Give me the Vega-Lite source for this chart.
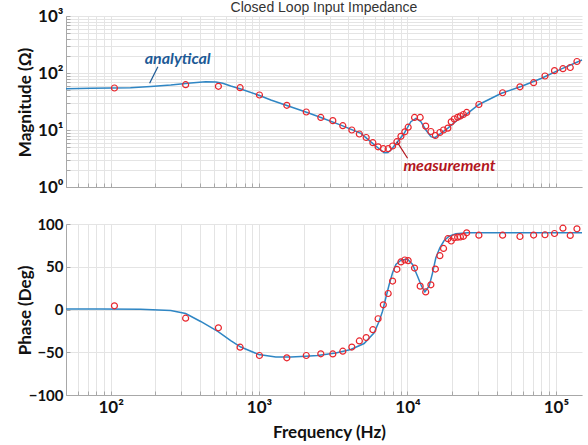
{
  "$schema": "https://vega.github.io/schema/vega-lite/v6.json",
  "autosize": {"type": "pad"},
  "padding": {"left": 16, "top": 1, "right": 6, "bottom": 4},
  "bounds": "flush",
  "spacing": 37,
  "config": {
    "view": {"stroke": null},
    "font": "Lato",
    "axis": {
      "grid": true,
      "gridColor": "#e4e4e4",
      "gridWidth": 1,
      "domainColor": "#a8a8a8",
      "domainWidth": 1,
      "ticks": true,
      "tickSize": -4,
      "tickColor": "#a8a8a8",
      "labelColor": "#111111",
      "labelFont": "Lato",
      "labelFontWeight": "bold",
      "labelOverlap": false,
      "titleColor": "#111111",
      "titleFont": "Lato",
      "titleFontWeight": "bold",
      "titleFontSize": 17
    }
  },
  "datasets": {
    "meas": [
      {"f": 106, "mag": 54.6, "phase": 4.3},
      {"f": 320, "mag": 62.4, "phase": -10.2},
      {"f": 532, "mag": 58.4, "phase": -21.4},
      {"f": 745, "mag": 55.2, "phase": -44.1},
      {"f": 1006, "mag": 41.1, "phase": -53.8},
      {"f": 1538, "mag": 27.1, "phase": -56.5},
      {"f": 2080, "mag": 20.7, "phase": -53.8},
      {"f": 2606, "mag": 16.6, "phase": -51.8},
      {"f": 3140, "mag": 14.6, "phase": -52.0},
      {"f": 3666, "mag": 11.9, "phase": -48.8},
      {"f": 4217, "mag": 10.0, "phase": -43.9},
      {"f": 4740, "mag": 8.51, "phase": -36.8},
      {"f": 5270, "mag": 7.39, "phase": -32.8},
      {"f": 5845, "mag": 5.99, "phase": -23.6},
      {"f": 6340, "mag": 5.07, "phase": -10.8},
      {"f": 6875, "mag": 4.70, "phase": 5.5},
      {"f": 7413, "mag": 4.70, "phase": 18.7},
      {"f": 7940, "mag": 5.24, "phase": 33.3},
      {"f": 8488, "mag": 6.23, "phase": 47.0},
      {"f": 9034, "mag": 7.75, "phase": 55.6},
      {"f": 9598, "mag": 9.30, "phase": 57.9},
      {"f": 10110, "mag": 11.2, "phase": 57.2},
      {"f": 11160, "mag": 16.6, "phase": 48.5},
      {"f": 12180, "mag": 16.6, "phase": 27.3},
      {"f": 13270, "mag": 11.7, "phase": 20.5},
      {"f": 14380, "mag": 9.41, "phase": 28.9},
      {"f": 15420, "mag": 8.01, "phase": 47.3},
      {"f": 16530, "mag": 9.04, "phase": 62.9},
      {"f": 17500, "mag": 10.0, "phase": 71.4},
      {"f": 18720, "mag": 10.8, "phase": 82.8},
      {"f": 19720, "mag": 13.9, "phase": 80.1},
      {"f": 20660, "mag": 15.6, "phase": 83.9},
      {"f": 21780, "mag": 16.7, "phase": 84.6},
      {"f": 22740, "mag": 17.6, "phase": 84.8},
      {"f": 23830, "mag": 18.7, "phase": 85.6},
      {"f": 25060, "mag": 20.3, "phase": 89.7},
      {"f": 30290, "mag": 28.0, "phase": 86.9},
      {"f": 43770, "mag": 45.0, "phase": 86.9},
      {"f": 57280, "mag": 57.3, "phase": 85.4},
      {"f": 70800, "mag": 67.6, "phase": 87.1},
      {"f": 84470, "mag": 88.6, "phase": 87.4},
      {"f": 97900, "mag": 110, "phase": 88.9},
      {"f": 111600, "mag": 119, "phase": 95.1},
      {"f": 125000, "mag": 125, "phase": 86.6},
      {"f": 138700, "mag": 159, "phase": 94.4}
    ],
    "anaMag": [
      {"f": 50, "mag": 53.0},
      {"f": 73.3, "mag": 53.9},
      {"f": 100, "mag": 54.6},
      {"f": 136, "mag": 55.3},
      {"f": 186, "mag": 58.0},
      {"f": 254, "mag": 61.6},
      {"f": 346, "mag": 66.8},
      {"f": 437, "mag": 70.1},
      {"f": 511, "mag": 69.5},
      {"f": 569, "mag": 65.9},
      {"f": 644, "mag": 59.1},
      {"f": 753, "mag": 52.4},
      {"f": 1007, "mag": 40.3},
      {"f": 1200, "mag": 33.6},
      {"f": 1538, "mag": 26.9},
      {"f": 2066, "mag": 20.7},
      {"f": 2608, "mag": 16.6},
      {"f": 3556, "mag": 12.2},
      {"f": 4853, "mag": 8.75},
      {"f": 5934, "mag": 5.61},
      {"f": 6413, "mag": 4.73},
      {"f": 6966, "mag": 4.00},
      {"f": 7379, "mag": 4.03},
      {"f": 7730, "mag": 4.46},
      {"f": 8579, "mag": 6.23},
      {"f": 9500, "mag": 8.75},
      {"f": 10540, "mag": 14.0},
      {"f": 11400, "mag": 16.0},
      {"f": 12310, "mag": 14.0},
      {"f": 13310, "mag": 10.0},
      {"f": 14390, "mag": 7.63},
      {"f": 15310, "mag": 7.33},
      {"f": 16800, "mag": 8.75},
      {"f": 18640, "mag": 10.7},
      {"f": 21760, "mag": 15.0},
      {"f": 25410, "mag": 19.6},
      {"f": 30290, "mag": 28.0},
      {"f": 42640, "mag": 43.7},
      {"f": 58210, "mag": 58.0},
      {"f": 79400, "mag": 80.1},
      {"f": 108200, "mag": 117},
      {"f": 150000, "mag": 169}
    ],
    "anaPh": [
      {"f": 50, "phase": 0.6},
      {"f": 85.6, "phase": 0.6},
      {"f": 159, "phase": 0.35},
      {"f": 254, "phase": -1.2},
      {"f": 320, "phase": -4.7},
      {"f": 404, "phase": -14.0},
      {"f": 527, "phase": -25.7},
      {"f": 644, "phase": -36.3},
      {"f": 753, "phase": -43.9},
      {"f": 995, "phase": -52.6},
      {"f": 1297, "phase": -55.6},
      {"f": 1637, "phase": -55.6},
      {"f": 2066, "phase": -54.6},
      {"f": 2477, "phase": -53.8},
      {"f": 3289, "phase": -50.9},
      {"f": 4150, "phase": -46.8},
      {"f": 5101, "phase": -39.8},
      {"f": 5961, "phase": -27.3},
      {"f": 6442, "phase": -13.7},
      {"f": 6790, "phase": -2.0},
      {"f": 7148, "phase": 13.7},
      {"f": 7530, "phase": 29.2},
      {"f": 7935, "phase": 42.9},
      {"f": 8356, "phase": 52.6},
      {"f": 9032, "phase": 57.7},
      {"f": 9600, "phase": 58.5},
      {"f": 10060, "phase": 58.5},
      {"f": 10820, "phase": 52.6},
      {"f": 11690, "phase": 38.9},
      {"f": 12440, "phase": 27.3},
      {"f": 13100, "phase": 20.7},
      {"f": 14000, "phase": 27.3},
      {"f": 14760, "phase": 42.9},
      {"f": 15530, "phase": 60.5},
      {"f": 16520, "phase": 72.2},
      {"f": 17670, "phase": 80.7},
      {"f": 19100, "phase": 85.7},
      {"f": 21190, "phase": 88.5},
      {"f": 25410, "phase": 89.7},
      {"f": 150000, "phase": 89.7}
    ]
  },
  "vconcat": [
    {
      "width": 516,
      "height": 171,
      "title": {
        "text": "Closed Loop Input Impedance",
        "font": "Liberation Sans",
        "fontSize": 14,
        "fontWeight": "normal",
        "color": "#333333",
        "frame": "group",
        "anchor": "middle",
        "baseline": "alphabetic",
        "offset": 3,
        "dy": 22
      },
      "encoding": {
        "x": {
          "field": "f",
          "type": "quantitative",
          "scale": {"type": "log", "domain": [50, 150000], "nice": false},
          "axis": {
            "values": [50, 60, 70, 80, 90, 100, 200, 300, 400, 500, 600, 700, 800, 900, 1000, 2000, 3000, 4000, 5000, 6000, 7000, 8000, 9000, 10000, 20000, 30000, 40000, 50000, 60000, 70000, 80000, 90000, 100000],
            "labels": false,
            "title": null
          }
        },
        "y": {
          "field": "mag",
          "type": "quantitative",
          "scale": {"type": "log", "domain": [1, 1000], "nice": false},
          "axis": {
            "values": [1, 2, 3, 4, 5, 6, 7, 8, 9, 10, 20, 30, 40, 50, 60, 70, 80, 90, 100, 200, 300, 400, 500, 600, 700, 800, 900, 1000],
            "labelExpr": "datum.value == 1 ? '10⁰' : datum.value == 10 ? '10¹' : datum.value == 100 ? '10²' : datum.value == 1000 ? '10³' : ''",
            "labelFontSize": 17,
            "labelPadding": 7,
            "title": "Magnitude (Ω)",
            "titleX": -41,
            "titleY": 86,
            "titleAngle": -90,
            "titleAlign": "center",
            "titleBaseline": "middle"
          }
        }
      },
      "layer": [
        {
          "data": {"name": "anaMag"},
          "mark": {"type": "line", "color": "#2f86c4", "strokeWidth": 1.5}
        },
        {
          "data": {"name": "meas"},
          "mark": {"type": "point", "shape": "circle", "filled": false, "color": "#e8262d", "size": 36, "strokeWidth": 1.2, "opacity": 1}
        },
        {
          "data": {"values": [{"f": 208, "mag": 129, "f2": 183, "mag2": 65.9}]},
          "mark": {"type": "rule", "color": "#1d5a96", "strokeWidth": 1.2},
          "encoding": {"x2": {"field": "f2"}, "y2": {"field": "mag2"}}
        },
        {
          "data": {"values": [{"f": 283, "mag": 176, "label": "analytical"}]},
          "mark": {"type": "text", "font": "Lato", "fontSize": 16, "fontStyle": "italic", "fontWeight": "bold", "color": "#1d5a96", "align": "center", "baseline": "middle"},
          "encoding": {"text": {"field": "label"}}
        },
        {
          "data": {"values": [{"f": 8488, "mag": 6.24, "f2": 10016, "mag2": 3.19}]},
          "mark": {"type": "rule", "color": "#b3161d", "strokeWidth": 1.2},
          "encoding": {"x2": {"field": "f2"}, "y2": {"field": "mag2"}}
        },
        {
          "data": {"values": [{"f": 19190, "mag": 2.37, "label": "measurement"}]},
          "mark": {"type": "text", "font": "Lato", "fontSize": 16, "fontStyle": "italic", "fontWeight": "bold", "color": "#b3161d", "align": "center", "baseline": "middle"},
          "encoding": {"text": {"field": "label"}}
        }
      ]
    },
    {
      "width": 516,
      "height": 171,
      "encoding": {
        "x": {
          "field": "f",
          "type": "quantitative",
          "scale": {"type": "log", "domain": [50, 150000], "nice": false},
          "axis": {
            "values": [50, 60, 70, 80, 90, 100, 200, 300, 400, 500, 600, 700, 800, 900, 1000, 2000, 3000, 4000, 5000, 6000, 7000, 8000, 9000, 10000, 20000, 30000, 40000, 50000, 60000, 70000, 80000, 90000, 100000],
            "labelExpr": "datum.value == 100 ? '10²' : datum.value == 1000 ? '10³' : datum.value == 10000 ? '10⁴' : datum.value == 100000 ? '10⁵' : ''",
            "labelFontSize": 17,
            "labelPadding": 8,
            "title": "Frequency (Hz)",
            "titleX": 263,
            "titleY": 37,
            "titleAlign": "center",
            "titleBaseline": "middle"
          }
        },
        "y": {
          "field": "phase",
          "type": "quantitative",
          "scale": {"domain": [-100, 100], "nice": false},
          "axis": {
            "values": [-100, -50, 0, 50, 100],
            "labelFontSize": 15,
            "labelPadding": 7,
            "title": "Phase (Deg)",
            "titleX": -41,
            "titleY": 86,
            "titleAngle": -90,
            "titleAlign": "center",
            "titleBaseline": "middle"
          }
        }
      },
      "layer": [
        {
          "data": {"name": "anaPh"},
          "mark": {"type": "line", "color": "#2f86c4", "strokeWidth": 1.5}
        },
        {
          "data": {"name": "meas"},
          "mark": {"type": "point", "shape": "circle", "filled": false, "color": "#e8262d", "size": 36, "strokeWidth": 1.2, "opacity": 1}
        }
      ]
    }
  ]
}
